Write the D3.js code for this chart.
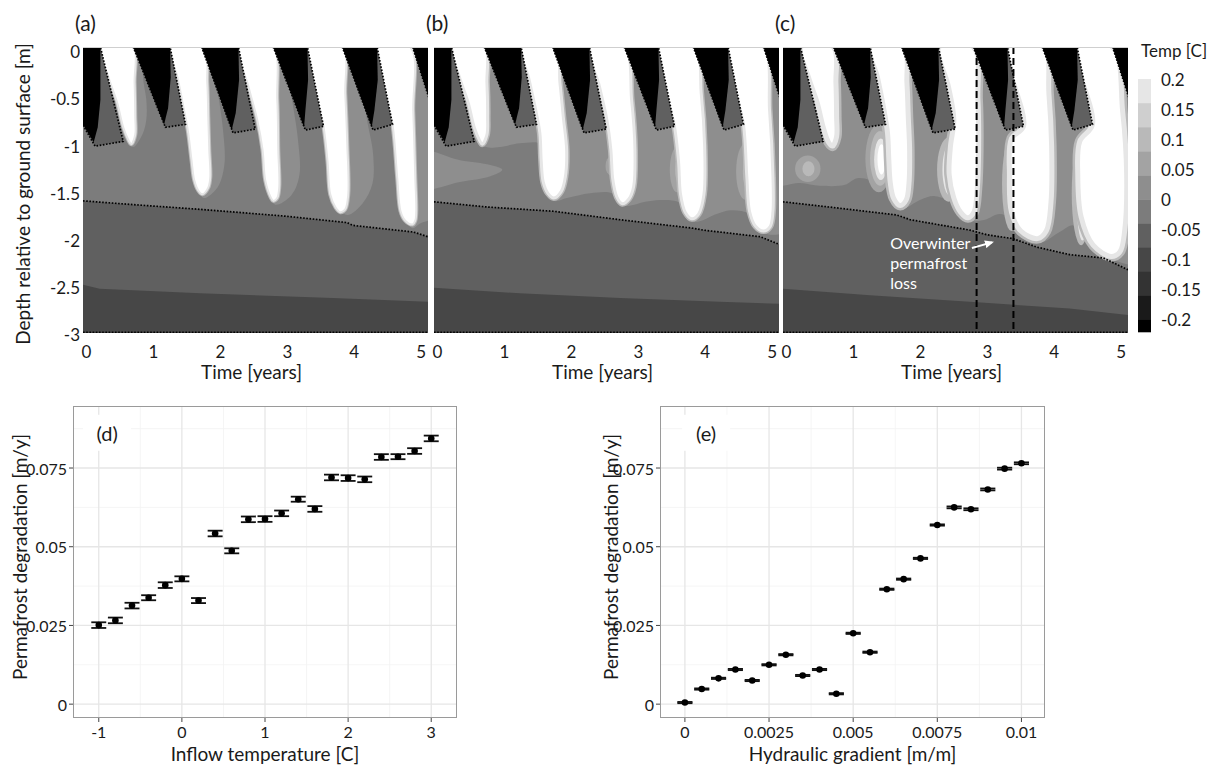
<!DOCTYPE html>
<html>
<head>
<meta charset="utf-8">
<script src="https://cdn.jsdelivr.net/npm/d3@7/dist/d3.min.js"></script>
<style>
  body { margin: 0; background: #fff; }
  svg { display: block; }
  text { font-family: Lato, "Open Sans", sans-serif; fill: #1a1a1a; }
</style>
</head>
<body>
<svg id="fig" width="1219" height="769"></svg>
<script>
// ================= temperature field panels (a)-(c) =================
const timeTicks = [0, 1, 2, 3, 4, 5];
const depthTicks = [0, -0.5, -1, -1.5, -2, -2.5, -3];
const panelTags = ["(a)", "(b)", "(c)"];

// binned temperature scale, warmest bin first
const tempEdges = [0.22, 0.2, 0.16, 0.12, 0.08, 0.04, 0, -0.04, -0.08, -0.12, -0.16, -0.2, -0.22];
const tempColors = ["#ffffff", "#e6e6e6", "#cfcfcf", "#b9b9b9", "#a3a3a3", "#8e8e8e",
                    "#7c7c7c", "#606060", "#474747", "#333333", "#1a1a1a", "#000000"];
const tempLabels = [0.2, 0.15, 0.1, 0.05, 0, -0.05, -0.1, -0.15, -0.2];

// winter frost wedges [time (yr), depth (m)], shared by all runs
const frostZones = [
  [[-0.3, 0.05], [0.21, 0.05], [0.55, -0.95], [0.13, -1.0], [-0.12, -0.69], [-0.3, -0.47]],
  [[0.70, 0.05], [1.25, 0.05], [1.48, -0.77], [1.18, -0.80]],
  [[1.72, 0.05], [2.27, 0.05], [2.52, -0.82], [2.19, -0.86]],
  [[2.79, 0.05], [3.30, 0.05], [3.54, -0.79], [3.27, -0.83]],
  [[3.82, 0.05], [4.34, 0.05], [4.57, -0.77], [4.28, -0.83]],
  [[4.87, 0.05], [5.3, 0.05], [5.3, -0.90], [5.06, -0.37]]
];
const frostCores = [
  [[-0.3, 0.05], [0.21, 0.05], [0.21, -0.51], [0.17, -0.80], [0.11, -0.96], [-0.12, -0.69], [-0.3, -0.47]],
  [[0.70, 0.05], [1.25, 0.05], [1.26, -0.27], [1.22, -0.60], [1.16, -0.77]],
  [[1.72, 0.05], [2.27, 0.05], [2.28, -0.30], [2.23, -0.65], [2.17, -0.83]],
  [[2.79, 0.05], [3.30, 0.05], [3.31, -0.30], [3.27, -0.62], [3.25, -0.80]],
  [[3.82, 0.05], [4.34, 0.05], [4.35, -0.30], [4.30, -0.62], [4.26, -0.80]],
  [[4.87, 0.05], [5.3, 0.05], [5.3, -0.90], [5.06, -0.37]]
];
const frostFronts = [
  [[-0.12, -0.69], [0.13, -1.0], [0.55, -0.95], [0.21, 0.05]],
  [[0.70, 0.05], [1.18, -0.80], [1.48, -0.77], [1.25, 0.05]],
  [[1.72, 0.05], [2.19, -0.86], [2.52, -0.82], [2.27, 0.05]],
  [[2.79, 0.05], [3.27, -0.83], [3.54, -0.79], [3.30, 0.05]],
  [[3.82, 0.05], [4.28, -0.83], [4.57, -0.77], [4.34, 0.05]],
  [[4.87, 0.05], [5.3, -0.90]]
];
// slightly warm fringe on the down-gradient side of each thaw bulb
const thawFringes = [
  [[0.63, 0.05], [0.83, 0.05], [0.85, -0.30], [0.895, -0.51], [0.895, -0.72], [0.835, -0.88], [0.70, -1.01], [0.63, -0.95]],
  [[1.73, 0.05], [1.88, -0.10], [1.955, -0.40], [2.04, -0.83], [2.06, -1.20], [1.955, -1.44], [1.75, -1.55], [1.68, -1.45]],
  [[2.78, 0.05], [2.97, -0.10], [3.07, -0.51], [3.16, -0.94], [3.18, -1.31], [3.06, -1.52], [2.82, -1.62], [2.73, -1.50]],
  [[3.83, 0.05], [4.03, -0.20], [4.21, -0.80], [4.28, -1.08], [4.27, -1.40], [4.12, -1.61], [3.895, -1.73], [3.78, -1.65]],
  [[4.83, 0.05], [5.3, 0.05], [5.3, -1.70], [4.98, -1.82], [4.87, -1.87], [4.78, -1.78]]
];

// summer thaw bulbs (> 0.2 C) for each run
const thawA = [
  [[0.22, 0.05], [0.33, -0.27], [0.46, -0.54], [0.55, -0.80], [0.63, -0.94], [0.67, -0.98], [0.73, -0.88], [0.73, -0.69], [0.72, -0.33], [0.69, 0.05]],
  [[1.25, 0.05], [1.36, -0.27], [1.45, -0.59], [1.52, -0.86], [1.57, -1.15], [1.61, -1.36], [1.67, -1.47], [1.73, -1.51], [1.82, -1.44], [1.85, -1.33], [1.835, -1.04], [1.82, -0.69], [1.805, -0.33], [1.75, 0.05]],
  [[2.28, 0.05], [2.42, -0.37], [2.55, -0.72], [2.63, -1.04], [2.67, -1.36], [2.75, -1.54], [2.79, -1.58], [2.85, -1.55], [2.88, -1.43], [2.865, -1.04], [2.85, -0.51], [2.78, 0.05]],
  [[3.31, 0.05], [3.54, -0.79], [3.60, -1.16], [3.64, -1.51], [3.72, -1.65], [3.79, -1.70], [3.865, -1.67], [3.91, -1.51], [3.895, -0.98], [3.865, -0.45], [3.82, 0.05]],
  [[4.34, 0.05], [4.57, -0.77], [4.64, -1.33], [4.69, -1.69], [4.76, -1.79], [4.87, -1.83], [4.91, -1.79], [4.925, -1.69], [4.91, -1.33], [4.88, -0.63], [4.835, 0.05]]
];
const thawB = [
  [[0.22, 0.05], [0.33, -0.27], [0.46, -0.54], [0.55, -0.80], [0.63, -0.94], [0.67, -0.98], [0.74, -0.88], [0.75, -0.69], [0.74, -0.33], [0.70, 0.05]],
  [[1.25, 0.05], [1.36, -0.27], [1.46, -0.59], [1.53, -0.86], [1.55, -1.15], [1.58, -1.38], [1.65, -1.50], [1.74, -1.55], [1.85, -1.48], [1.91, -1.33], [1.93, -1.04], [1.88, -0.69], [1.83, -0.33], [1.76, 0.05]],
  [[2.28, 0.05], [2.42, -0.37], [2.53, -0.72], [2.59, -1.04], [2.62, -1.36], [2.68, -1.54], [2.76, -1.61], [2.86, -1.56], [2.93, -1.43], [2.95, -1.04], [2.90, -0.51], [2.79, 0.05]],
  [[3.31, 0.05], [3.54, -0.79], [3.60, -1.16], [3.63, -1.51], [3.70, -1.70], [3.80, -1.77], [3.90, -1.72], [3.98, -1.51], [3.99, -1.0], [3.94, -0.45], [3.84, 0.05]],
  [[4.34, 0.05], [4.57, -0.77], [4.62, -1.33], [4.66, -1.69], [4.75, -1.85], [4.87, -1.90], [4.97, -1.85], [5.01, -1.69], [5.01, -1.33], [4.96, -0.63], [4.86, 0.05]]
];
const thawC = [
  [[0.22, 0.05], [0.33, -0.27], [0.46, -0.54], [0.55, -0.80], [0.63, -0.96], [0.69, -1.0], [0.75, -0.90], [0.75, -0.69], [0.74, -0.33], [0.70, 0.05]],
  [[1.25, 0.05], [1.36, -0.27], [1.45, -0.59], [1.51, -0.86], [1.53, -1.15], [1.55, -1.38], [1.60, -1.55], [1.70, -1.63], [1.79, -1.57], [1.83, -1.40], [1.84, -1.04], [1.82, -0.69], [1.80, -0.33], [1.75, 0.05]],
  [[2.28, 0.05], [2.42, -0.37], [2.50, -0.72], [2.45, -1.0], [2.43, -1.30], [2.50, -1.55], [2.60, -1.70], [2.71, -1.76], [2.80, -1.70], [2.85, -1.45], [2.87, -1.04], [2.86, -0.51], [2.79, 0.05]],
  [[3.31, 0.05], [3.54, -0.79], [3.36, -0.92], [3.33, -1.30], [3.36, -1.70], [3.50, -1.90], [3.75, -1.98], [3.88, -1.90], [3.95, -1.60], [3.96, -1.0], [3.92, -0.45], [3.84, 0.05]],
  [[4.34, 0.05], [4.57, -0.77], [4.38, -0.95], [4.35, -1.30], [4.40, -1.75], [4.58, -2.05], [4.85, -2.17], [4.98, -2.12], [5.05, -1.90], [5.08, -1.30], [5.02, -0.63], [4.87, 0.05]]
];

// permafrost table (dotted) and deeper cold layer boundary
const tableA = [[-0.05, -1.58], [0.7, -1.62], [1.7, -1.67], [2.94, -1.74], [3.89, -1.81], [3.98, -1.84], [4.88, -1.91], [5.1, -1.96]];
const tableB = [[-0.05, -1.59], [0.74, -1.645], [1.73, -1.69], [2.73, -1.78], [3.82, -1.87], [3.97, -1.89], [4.82, -1.96], [5.1, -2.04]];
const tableC = [[-0.05, -1.59], [0.76, -1.655], [1.65, -1.73], [1.85, -1.78], [2.74, -1.89], [3.0, -1.94], [3.38, -1.98], [3.74, -2.07], [4.23, -2.15], [4.73, -2.185], [5.1, -2.31]];
const deepA = [[-0.05, -2.47], [0.2, -2.51], [1.7, -2.56], [3.68, -2.61], [5.1, -2.65]];
const deepB = [[-0.05, -2.50], [1.23, -2.56], [2.73, -2.61], [4.22, -2.65], [5.1, -2.67]];
const deepC = [[-0.05, -2.51], [1.25, -2.58], [2.74, -2.65], [4.23, -2.72], [4.73, -2.76], [5.1, -2.79]];

// near-zero (0 to 0.04 C) zones in the warmer runs
const mildB = [
  [[-0.3, -1.05], [0.34, -1.15], [0.79, -1.20], [0.97, -1.25], [0.79, -1.32], [0.34, -1.38], [-0.3, -1.45]],
  [[0.62, 0.3], [5.3, 0.3], [5.3, -1.85], [4.92, -1.93], [4.67, -1.72], [4.37, -1.68], [4.17, -1.72], [3.82, -1.80],
   [3.62, -1.60], [3.32, -1.57], [3.10, -1.59], [2.80, -1.63], [2.61, -1.50], [2.28, -1.50], [1.935, -1.55], [1.74, -1.58],
   [1.62, -1.45], [1.56, -1.2], [1.55, -0.98], [1.23, -0.97], [0.935, -1.01], [0.70, -1.0], [0.62, -0.8]]
];
const mildC = [
  [[-0.3, 0.3], [5.3, 0.3], [5.3, -2.23], [4.935, -2.22], [4.68, -2.10], [4.38, -1.94], [4.28, -1.84], [4.08, -1.91],
   [3.78, -2.02], [3.49, -1.84], [3.19, -1.72], [2.965, -1.78], [2.75, -1.79], [2.517, -1.62], [2.22, -1.53], [1.995, -1.57],
   [1.72, -1.66], [1.547, -1.47], [1.249, -1.36], [1.054, -1.34], [0.875, -1.41], [0.50, -1.42], [0.204, -1.39], [-0.3, -1.40]]
];
// isolated warm pockets: centre (t, d), half-extent (rt, rd), temperature bin
const pocketsB = [
  { t: 2.59, d: -1.21, rt: 0.08, rd: 0.10, bin: 4 },
  { t: 3.58, d: -1.25, rt: 0.11, rd: 0.24, bin: 4 },
  { t: 3.61, d: -1.25, rt: 0.06, rd: 0.15, bin: 3 },
  { t: 4.60, d: -1.27, rt: 0.14, rd: 0.30, bin: 4 },
  { t: 4.64, d: -1.27, rt: 0.08, rd: 0.20, bin: 3 }
];
const pocketsC = [
  { t: 0.32, d: -1.24, rt: 0.19, rd: 0.14, bin: 4 },
  { t: 0.33, d: -1.24, rt: 0.09, rd: 0.08, bin: 3 },
  { t: 1.38, d: -1.13, rt: 0.20, rd: 0.36, bin: 4 },
  { t: 1.40, d: -1.13, rt: 0.15, rd: 0.29, bin: 3 },
  { t: 1.41, d: -1.14, rt: 0.10, rd: 0.22, bin: 1 },
  { t: 1.42, d: -1.14, rt: 0.06, rd: 0.16, bin: 0 },
  { t: 2.42, d: -1.25, rt: 0.17, rd: 0.34, bin: 3 },
  { t: 2.45, d: -1.25, rt: 0.12, rd: 0.28, bin: 1 },
  { t: 3.36, d: -1.40, rt: 0.14, rd: 0.50, bin: 3 },
  { t: 3.38, d: -1.40, rt: 0.09, rd: 0.45, bin: 1 },
  { t: 4.40, d: -1.50, rt: 0.14, rd: 0.55, bin: 3 },
  { t: 4.42, d: -1.50, rt: 0.09, rd: 0.50, bin: 1 }
];

// annotation in (c)
const lossWindow = [2.84, 3.39];
const lossText = ["Overwinter", "permafrost", "loss"];
const lossTextAt = [1.55, -2.09, -2.30, -2.51];
const lossArrow = [[2.77, -2.08], [3.07, -2.02]];

// ================= degradation panels (d)-(e) =================
const inflowTemp = [-1, -0.8, -0.6, -0.4, -0.2, 0, 0.2, 0.4, 0.6, 0.8, 1, 1.2, 1.4, 1.6, 1.8, 2, 2.2, 2.4, 2.6, 2.8, 3];
const degByTemp = [0.0251, 0.0266, 0.0313, 0.0338, 0.0378, 0.0398, 0.0329, 0.0542, 0.0487, 0.0587, 0.0588,
                   0.0606, 0.0651, 0.0620, 0.0720, 0.0718, 0.0714, 0.0785, 0.0786, 0.0804, 0.0844];
const errByTemp = [0.0009, 0.0009, 0.0009, 0.0008, 0.0009, 0.0008, 0.0008, 0.0009, 0.0008, 0.0009, 0.0009,
                   0.0009, 0.0008, 0.0009, 0.0009, 0.0009, 0.0009, 0.0009, 0.0008, 0.0009, 0.0009];
const hydGrad = [0, 0.0005, 0.001, 0.0015, 0.002, 0.0025, 0.003, 0.0035, 0.004, 0.0045, 0.005, 0.0055,
                 0.006, 0.0065, 0.007, 0.0075, 0.008, 0.0085, 0.009, 0.0095, 0.01];
const degByGrad = [0.0005, 0.0048, 0.0082, 0.0110, 0.0075, 0.0125, 0.0157, 0.0091, 0.0110, 0.0033, 0.0225,
                   0.0165, 0.0365, 0.0397, 0.0463, 0.0569, 0.0625, 0.0619, 0.0682, 0.0748, 0.0765];
const errByGrad = [0.0002, 0.0002, 0.0002, 0.0002, 0.0002, 0.0002, 0.0002, 0.0002, 0.0002, 0.0002, 0.0002,
                   0.0002, 0.0002, 0.0002, 0.0002, 0.0002, 0.0003, 0.0003, 0.0003, 0.0003, 0.0003];
const degTicks = [0, 0.025, 0.05, 0.075];
const degMinor = [0.0125, 0.0375, 0.0625, 0.0875];
const tempTicks = [-1, 0, 1, 2, 3];
const tempMinor = [-0.5, 0.5, 1.5, 2.5];
const gradTicks = [0, 0.0025, 0.005, 0.0075, 0.01];
const gradMinor = [0.00125, 0.00375, 0.00625, 0.00875];

// ====================================================================
const svg = d3.select("#fig");
const defs = svg.append("defs");
defs.append("marker").attr("id", "arrowHead").attr("markerUnits", "userSpaceOnUse")
  .attr("markerWidth", 9).attr("markerHeight", 8).attr("refX", 7).attr("refY", 4).attr("orient", "auto")
  .append("path").attr("d", "M0,0 L9,4 L0,8 Z").attr("fill", "#fff");

const fieldTop = 47, fieldBottom = 333, fieldWidth = 345;
const depthY = d3.scaleLinear().domain([0.05, -2.98]).range([fieldTop, fieldBottom]);

const runs = [
  { left: 83,  thaw: thawA, table: tableA, deep: deepA, mild: [],    pockets: [],       fringe: 2 },
  { left: 434, thaw: thawB, table: tableB, deep: deepB, mild: mildB, pockets: pocketsB, fringe: 3 },
  { left: 783, thaw: thawC, table: tableC, deep: deepC, mild: mildC, pockets: pocketsC, fringe: 5 }
];

const dotStyle = sel => sel.attr("fill", "none").attr("stroke", "#000")
  .attr("stroke-width", 1.7).attr("stroke-dasharray", "1.6 1.6");

runs.forEach((run, i) => {
  const x = d3.scaleLinear().domain([-0.05, 5.1]).range([run.left, run.left + fieldWidth]);
  const y = depthY;
  const open = d3.line().x(d => x(d[0])).y(d => y(d[1]));
  const poly = d3.line().x(d => x(d[0])).y(d => y(d[1])).curve(d3.curveLinearClosed);
  const blob = d3.line().x(d => x(d[0])).y(d => y(d[1])).curve(d3.curveCatmullRomClosed.alpha(0.5));
  const fillAbove = d3.area().x(d => x(d[0])).y0(y(0.3)).y1(d => y(d[1]));
  const extend = pts => [[-0.5, pts[0][1]], ...pts, [5.6, pts[pts.length - 1][1]]];

  const clipId = "field-clip-" + i;
  defs.append("clipPath").attr("id", clipId).append("rect")
    .attr("x", run.left).attr("y", fieldTop).attr("width", fieldWidth).attr("height", fieldBottom - fieldTop);
  const g = svg.append("g").attr("clip-path", `url(#${clipId})`);

  // background layering from deep to shallow
  g.append("rect").attr("x", run.left).attr("y", fieldTop).attr("width", fieldWidth)
    .attr("height", fieldBottom - fieldTop).attr("fill", tempColors[8]);
  g.append("path").attr("d", fillAbove(extend(run.deep))).attr("fill", tempColors[7]);
  g.append("path").attr("d", fillAbove(extend(run.table))).attr("fill", tempColors[6]);

  thawFringes.forEach(p => g.append("path").attr("d", blob(p)).attr("fill", tempColors[5]));
  run.mild.forEach(p => g.append("path").attr("d", blob(p)).attr("fill", tempColors[5]));
  run.pockets.forEach(p => g.append("ellipse")
    .attr("cx", x(p.t)).attr("cy", y(p.d))
    .attr("rx", x(p.t + p.rt) - x(p.t)).attr("ry", y(p.d - p.rd) - y(p.d))
    .attr("fill", tempColors[p.bin]));

  // thaw bulbs with graded rims
  run.thaw.forEach(p => {
    g.append("path").attr("d", blob(p)).attr("fill", tempColors[3])
      .attr("stroke", tempColors[3]).attr("stroke-width", run.fringe * 2).attr("stroke-linejoin", "round");
    g.append("path").attr("d", blob(p)).attr("fill", "#fff")
      .attr("stroke", tempColors[1]).attr("stroke-width", run.fringe).attr("stroke-linejoin", "round");
  });

  // frost wedges
  frostZones.forEach(p => g.append("path").attr("d", poly(p)).attr("fill", tempColors[7]));
  frostCores.forEach(p => g.append("path").attr("d", poly(p)).attr("fill", tempColors[11]));
  frostFronts.forEach(p => g.append("path").attr("d", open(p)).call(dotStyle));
  g.append("path").attr("d", open(run.table)).call(dotStyle);
  g.append("path").attr("d", open([[-0.05, -2.972], [5.1, -2.972]])).call(dotStyle);

  if (i === 2) {
    lossWindow.forEach(t => g.append("line")
      .attr("x1", x(t)).attr("x2", x(t)).attr("y1", fieldTop).attr("y2", fieldBottom)
      .attr("stroke", "#000").attr("stroke-width", 2).attr("stroke-dasharray", "7 4"));
    lossText.forEach((s, k) => g.append("text").attr("x", x(lossTextAt[0])).attr("y", y(lossTextAt[k + 1]))
      .style("fill", "#fff").attr("font-size", 16).text(s));
    g.append("path").attr("d", open(lossArrow)).attr("stroke", "#fff").attr("stroke-width", 2)
      .attr("fill", "none").attr("marker-end", "url(#arrowHead)");
  }

  svg.append("line").attr("x1", run.left).attr("x2", run.left + fieldWidth)
    .attr("y1", fieldTop + 0.5).attr("y2", fieldTop + 0.5).attr("stroke", "#cfcfcf").attr("stroke-width", 1);

  // axes text
  timeTicks.forEach(t => svg.append("text").attr("x", x(t)).attr("y", 351)
    .attr("text-anchor", "middle").attr("dominant-baseline", "central").attr("font-size", 17).text(String(t)));
  svg.append("text").attr("x", run.left + fieldWidth / 2 - 4).attr("y", 371)
    .attr("text-anchor", "middle").attr("dominant-baseline", "central").attr("font-size", 19).text("Time [years]");
  svg.append("text").attr("x", run.left - 8).attr("y", 22)
    .attr("dominant-baseline", "central").attr("font-size", 21).text(panelTags[i]);
});

depthTicks.forEach(d => svg.append("text").attr("x", 80).attr("y", depthY(d))
  .attr("text-anchor", "end").attr("dominant-baseline", "central").attr("font-size", 17).text(String(d)));
svg.append("text").attr("transform", "translate(22,194) rotate(-90)")
  .attr("text-anchor", "middle").attr("dominant-baseline", "central").attr("font-size", 19)
  .text("Depth relative to ground surface [m]");

// colour bar
const barY = d3.scaleLinear().domain([0.22, -0.22]).range([67, 332]);
tempColors.forEach((c, k) => svg.append("rect")
  .attr("x", 1138).attr("width", 13)
  .attr("y", barY(tempEdges[k])).attr("height", barY(tempEdges[k + 1]) - barY(tempEdges[k]) + 0.3)
  .attr("fill", c));
tempLabels.forEach(v => svg.append("text").attr("x", 1161).attr("y", barY(v))
  .attr("dominant-baseline", "central").attr("font-size", 17).text(String(v)));
svg.append("text").attr("x", 1141).attr("y", 50).attr("dominant-baseline", "central")
  .attr("font-size", 17).text("Temp [C]");

// ================= scatter panels =================
const degY = d3.scaleLinear().domain([-0.0044, 0.0947]).range([718, 406]);

function drawRates(cfg) {
  const x = d3.scaleLinear().domain(cfg.xDomain).range([cfg.left, cfg.right]);
  const y = degY;
  const g = svg.append("g");
  const [top, bottom] = [406, 718];

  cfg.xMinor.forEach(v => g.append("line").attr("x1", x(v)).attr("x2", x(v)).attr("y1", top).attr("y2", bottom)
    .attr("stroke", "#f2f2f2").attr("stroke-width", 0.8));
  degMinor.forEach(v => g.append("line").attr("x1", cfg.left).attr("x2", cfg.right).attr("y1", y(v)).attr("y2", y(v))
    .attr("stroke", "#f2f2f2").attr("stroke-width", 0.8));
  cfg.xTicks.forEach(v => g.append("line").attr("x1", x(v)).attr("x2", x(v)).attr("y1", top).attr("y2", bottom)
    .attr("stroke", "#e6e6e6").attr("stroke-width", 1.3));
  degTicks.forEach(v => g.append("line").attr("x1", cfg.left).attr("x2", cfg.right).attr("y1", y(v)).attr("y2", y(v))
    .attr("stroke", "#e6e6e6").attr("stroke-width", 1.3));

  // panel tag on a white label
  const tx = x(cfg.tagAt[0]), ty = y(cfg.tagAt[1]);
  g.append("rect").attr("x", tx - 24).attr("y", ty - 18).attr("width", 48).attr("height", 36).attr("fill", "#fff");
  g.append("text").attr("x", tx).attr("y", ty).attr("text-anchor", "middle").attr("dominant-baseline", "central")
    .attr("font-size", 20).text(cfg.tag);

  // error bars and means
  const capHalf = cfg.capWidth / 2;
  cfg.xs.forEach((xv, k) => {
    const m = cfg.ys[k], e = cfg.errs[k];
    const bar = g.append("g").attr("stroke", "#111").attr("stroke-width", 1.8);
    bar.append("line").attr("x1", x(xv)).attr("x2", x(xv)).attr("y1", y(m - e)).attr("y2", y(m + e));
    [m - e, m + e].forEach(v => bar.append("line")
      .attr("x1", x(xv - capHalf)).attr("x2", x(xv + capHalf)).attr("y1", y(v)).attr("y2", y(v)));
    g.append("circle").attr("cx", x(xv)).attr("cy", y(m)).attr("r", 3.3).attr("fill", "#000");
  });

  g.append("rect").attr("x", cfg.left + 0.5).attr("y", top + 0.5).attr("width", cfg.right - cfg.left - 1)
    .attr("height", bottom - top - 1).attr("fill", "none").attr("stroke", "#9a9a9a").attr("stroke-width", 1);

  cfg.xTicks.forEach(v => {
    g.append("line").attr("x1", x(v)).attr("x2", x(v)).attr("y1", bottom).attr("y2", bottom + 4)
      .attr("stroke", "#444").attr("stroke-width", 1);
    g.append("text").attr("x", x(v)).attr("y", 731).attr("text-anchor", "middle")
      .attr("dominant-baseline", "central").attr("font-size", 16).text(String(v));
  });
  degTicks.forEach(v => {
    g.append("line").attr("x1", cfg.left - 4).attr("x2", cfg.left).attr("y1", y(v)).attr("y2", y(v))
      .attr("stroke", "#444").attr("stroke-width", 1);
    g.append("text").attr("x", cfg.left - 6).attr("y", y(v)).attr("text-anchor", "end")
      .attr("dominant-baseline", "central").attr("font-size", 16).text(String(v));
  });
  g.append("text").attr("x", (cfg.left + cfg.right) / 2).attr("y", 753).attr("text-anchor", "middle")
    .attr("dominant-baseline", "central").attr("font-size", 19).text(cfg.xTitle);
  g.append("text").attr("transform", `translate(${cfg.yTitleX},557) rotate(-90)`).attr("text-anchor", "middle")
    .attr("dominant-baseline", "central").attr("font-size", 19).text("Permafrost degradation [m/y]");
}

drawRates({
  left: 73, right: 457, xDomain: [-1.31, 3.31], xTicks: tempTicks, xMinor: tempMinor,
  xs: inflowTemp, ys: degByTemp, errs: errByTemp, capWidth: 0.18,
  tag: "(d)", tagAt: [-0.9, 0.0862], xTitle: "Inflow temperature [C]", yTitleX: 19
});
drawRates({
  left: 660, right: 1045, xDomain: [-0.00074, 0.0107], xTicks: gradTicks, xMinor: gradMinor,
  xs: hydGrad, ys: degByGrad, errs: errByGrad, capWidth: 0.00045,
  tag: "(e)", tagAt: [0.00063, 0.0862], xTitle: "Hydraulic gradient [m/m]", yTitleX: 610
});
</script>
</body>
</html>
